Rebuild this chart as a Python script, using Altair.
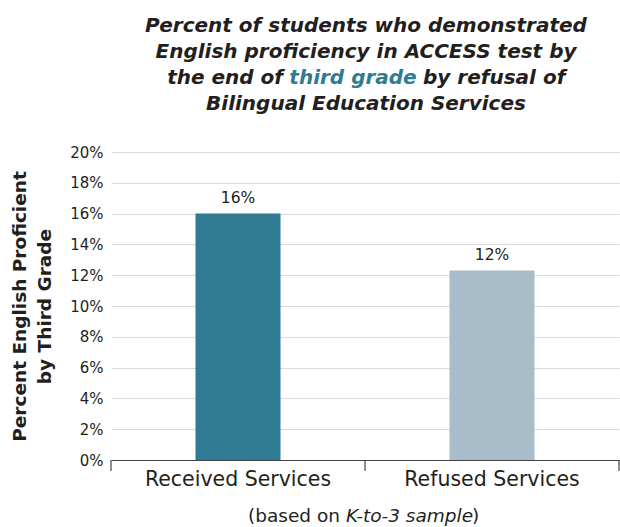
import altair as alt
import pandas as pd

categories = ["Received Services", "Refused Services"]
values = [16.0, 12.3]
value_labels = ["16%", "12%"]
bar_colors = ["#2e7b93", "#a9bcc9"]
y_ticks = [0, 2, 4, 6, 8, 10, 12, 14, 16, 18, 20]

title_line1 = "Percent of students who demonstrated"
title_line2 = "English proficiency in ACCESS test by"
title_line3a = "the end of"
title_line3b = "third grade"
title_line3c = "by refusal of"
title_line4 = "Bilingual Education Services"
note_a = "(based on"
note_b = "K-to-3 sample"
note_c = ")"
y_title = ["Percent English Proficient", "by Third Grade"]

df = pd.DataFrame({"group": categories, "pct": values, "label": value_labels})

W, H = 508, 308
FONT = "DejaVu Sans"
DARK = "#231f20"
TEAL = "#2e7b93"

x = alt.X(
    "group:N", sort=categories, title=None,
    scale=alt.Scale(paddingInner=0, paddingOuter=0),
    axis=alt.Axis(ticks=False, labelAngle=0, labelFontSize=20.5, labelColor=DARK,
                  labelLimit=400, labelPadding=9, domainColor="#444", domainWidth=1.2,
                  labelFont=FONT),
)
y = alt.Y(
    "pct:Q", scale=alt.Scale(domain=[0, 20]), title=y_title,
    axis=alt.Axis(values=y_ticks, labelExpr="datum.value + '%'", domain=False, ticks=False,
                  labelOverlap=False,
                  gridColor="#d9d9d9", gridWidth=1.2, labelFontSize=15, labelPadding=8,
                  labelColor=DARK, labelFont=FONT,
                  titleFont=FONT, titleFontSize=18.5, titleFontWeight="bold",
                  titleColor=DARK, titlePadding=15, titleLineHeight=25),
)

bars = alt.Chart(df).mark_bar(size=85).encode(
    x=x, y=y,
    color=alt.Color("group:N", sort=categories,
                    scale=alt.Scale(domain=categories, range=bar_colors), legend=None),
)
texts = alt.Chart(df).mark_text(dy=-11, baseline="alphabetic", fontSize=15.5, font=FONT,
                                color=DARK).encode(
    x=x, y=y, text="label:N"
)

one = pd.DataFrame({"k": [0]})


def tick(px):
    return alt.Chart(one).mark_rule(color="#444", strokeWidth=1.2).encode(
        x=alt.value(px), y=alt.value(H), y2=alt.value(H + 11)
    )


def txt(s, px, py, align="center", italic=False, bold=False, size=20, color=DARK):
    kw = dict(align=align, baseline="alphabetic", fontSize=size, font=FONT, color=color, text=s)
    if italic:
        kw["fontStyle"] = "italic"
    if bold:
        kw["fontWeight"] = "bold"
    return alt.Chart(one).mark_text(**kw).encode(x=alt.value(px), y=alt.value(py))


layers = [
    bars, texts,
    tick(0), tick(W / 2), tick(W),
    txt(title_line1, 255, -120, italic=True, bold=True),
    txt(title_line2, 255, -94, italic=True, bold=True),
    txt(title_line3a, 172, -68, align="right", italic=True, bold=True),
    txt(title_line3b, 242, -68, italic=True, bold=True, color=TEAL),
    txt(title_line3c, 312, -68, align="left", italic=True, bold=True),
    txt(title_line4, 255, -42, italic=True, bold=True),
    txt(note_a, 229, 370, align="right", size=18.5),
    txt(note_b, 235, 370, align="left", size=18.5, italic=True),
    txt(note_c, 361, 370, align="left", size=18.5),
]

chart = alt.layer(*layers).properties(
    width=W, height=H,
    autosize=alt.AutoSizeParams(type="none"),
    padding={"left": 111, "top": 152, "right": 1, "bottom": 67},
).configure_view(stroke=None)

chart.save("out.html", embed_options={"renderer": "svg", "actions": False})
